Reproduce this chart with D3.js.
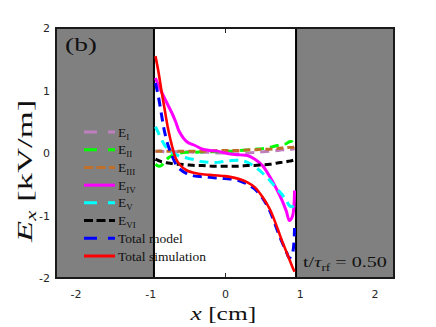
<!DOCTYPE html>
<html>
<head>
<meta charset="utf-8">
<script src="https://cdn.jsdelivr.net/npm/d3@7"></script>
<style>
  body { margin: 0; background: #fff; }
  svg { display: block; }
</style>
</head>
<body>
<div id="main"></div>
<script>
// values: x in cm, E_x in kV/m
const xTicks = [-2, -1, 0, 1, 2];
const yTicks = [-2, -1, 0, 1, 2];
const wallX = [-0.95, 0.95];

const xGrid = [-0.93, -0.89, -0.85, -0.81, -0.76, -0.71, -0.66, -0.61, -0.51, -0.40, -0.30, -0.20, -0.10,
               0, 0.10, 0.20, 0.30, 0.40, 0.50, 0.60, 0.70, 0.76, 0.82, 0.86, 0.90, 0.93];

const eI   = [0.03, 0.03, 0.03, 0.02, 0.02, 0.02, 0.02, 0.02, 0.02, 0.01, 0.01, 0.01, 0.00,
              0.00, -0.01, -0.01, 0.00, 0.01, 0.02, 0.03, 0.04, 0.05, 0.05, 0.06, 0.06, 0.07];
const eII  = [-0.18, -0.21, -0.20, -0.14, -0.08, -0.04, -0.01, 0.00, 0.01, 0.01, 0.02, 0.02, 0.02,
              0.03, 0.03, 0.04, 0.05, 0.06, 0.07, 0.09, 0.12, 0.14, 0.15, 0.18, 0.18, 0.12];
const eIII = [0.03, 0.03, 0.03, 0.03, 0.03, 0.03, 0.03, 0.03, 0.03, 0.03, 0.03, 0.03, 0.04,
              0.04, 0.04, 0.04, 0.05, 0.05, 0.06, 0.06, 0.07, 0.08, 0.08, 0.09, 0.09, 0.10];
const eIV  = [1.20, 1.08, 0.98, 0.88, 0.76, 0.64, 0.50, 0.34, 0.18, 0.12, 0.06, 0.04, 0.03,
              0.00, -0.02, -0.03, -0.04, -0.10, -0.20, -0.38, -0.60, -0.75, -0.93, -1.08, -1.02, -0.60];
const eV   = [0.42, 0.32, 0.22, 0.13, 0.06, 0.01, -0.02, -0.05, -0.08, -0.11, -0.14, -0.15, -0.15,
              -0.13, -0.12, -0.12, -0.15, -0.22, -0.32, -0.44, -0.58, -0.66, -0.76, -0.84, -0.86, -0.80];
const eVI  = [-0.10, -0.12, -0.14, -0.15, -0.16, -0.17, -0.18, -0.18, -0.19, -0.20, -0.20, -0.21, -0.21,
              -0.21, -0.21, -0.21, -0.20, -0.20, -0.19, -0.18, -0.16, -0.15, -0.14, -0.13, -0.12, -0.11];
const totalModel = [1.12, 0.90, 0.62, 0.35, 0.12, -0.04, -0.17, -0.25, -0.33, -0.37, -0.38, -0.39, -0.40,
                    -0.41, -0.42, -0.45, -0.50, -0.58, -0.72, -0.93, -1.24, -1.42, -1.58, -1.68, -1.62, -1.20];
const totalSim   = [1.55, 1.30, 1.00, 0.72, 0.38, 0.12, -0.08, -0.18, -0.28, -0.32, -0.34, -0.35, -0.36,
                    -0.37, -0.39, -0.42, -0.47, -0.55, -0.70, -0.90, -1.20, -1.40, -1.58, -1.70, -1.82, -1.90];

const seriesNames = ["I", "II", "III", "IV", "V", "VI", "Total model", "Total simulation"];
const seriesValues = [eI, eII, eIII, eIV, eV, eVI, totalModel, totalSim];
const seriesColors = ["#bf7fbf", "#00ff00", "#bf6f2a", "#ff00ff", "#00ffff", "#000000", "#0000ff", "#ff0000"];
const seriesDash = ["9,6", "9,6", "7,4", null, "9,6", "7,4", "9,6", null];
const legendDash = ["13,11", "13,11", "9,3.5", null, "13,11", "9,3.5", "13,11", null];

const width = 436, height = 327;
const box = {left: 56, right: 394, top: 28, bottom: 278};

const svg = d3.select("#main").append("svg")
    .attr("width", width)
    .attr("height", height);

const x = d3.scaleLinear().domain([-2.26, 2.26]).range([box.left, box.right]);
const y = d3.scaleLinear().domain([-2, 2]).range([box.bottom, box.top]);

// axes, ticks pointing inward
const axisColor = "#262626";
function styleAxis(g) {
    g.select(".domain").remove();
    g.selectAll("line").attr("stroke", axisColor);
    g.selectAll("text").attr("fill", axisColor)
        .style("font-family", "'DejaVu Sans', sans-serif").style("font-size", "11px");
}
svg.append("g").attr("transform", `translate(0,${box.bottom})`)
    .call(d3.axisBottom(x).tickValues(xTicks).tickSize(-5).tickPadding(12).tickFormat(d3.format("d")))
    .call(styleAxis);
svg.append("g").attr("transform", `translate(0,${box.top})`)
    .call(d3.axisTop(x).tickValues(xTicks).tickSize(-5).tickFormat(""))
    .call(styleAxis);
svg.append("g").attr("transform", `translate(${box.left},0)`)
    .call(d3.axisLeft(y).tickValues(yTicks).tickSize(-5).tickPadding(6).tickFormat(d3.format("d")))
    .call(styleAxis);
svg.selectAll("text").filter(function() { return this.textContent.startsWith("−"); })
    .text(function() { return this.textContent.replace("−", "-"); });

// gray walls outside the plasma
const walls = [[x.domain()[0], wallX[0]], [wallX[1], x.domain()[1]]];
svg.append("g").selectAll("rect")
    .data(walls)
    .join("rect")
    .attr("x", d => x(d[0]))
    .attr("y", box.top)
    .attr("width", d => x(d[1]) - x(d[0]))
    .attr("height", box.bottom - box.top)
    .attr("fill", "#808080")
    .attr("stroke", "#000")
    .attr("stroke-width", 2);

// curves
const line = d3.line()
    .x((d, i) => x(xGrid[i]))
    .y(d => y(d))
    .curve(d3.curveCatmullRom);

svg.append("g").selectAll("path")
    .data(seriesValues)
    .join("path")
    .attr("d", d => line(d))
    .attr("fill", "none")
    .attr("stroke", (d, i) => seriesColors[i])
    .attr("stroke-width", (d, i) => i === 7 ? 2.6 : 3)
    .attr("stroke-dasharray", (d, i) => seriesDash[i]);

// axes box
svg.append("rect")
    .attr("x", box.left).attr("y", box.top)
    .attr("width", box.right - box.left).attr("height", box.bottom - box.top)
    .attr("fill", "none").attr("stroke", "#1a1a1a").attr("stroke-width", 2);

// legend
const legend = svg.append("g");
const rowY = d3.scaleLinear().domain([0, 7]).range([132, 256]);
seriesNames.forEach((name, i) => {
    const yy = rowY(i);
    legend.append("line")
        .attr("x1", 84).attr("x2", 115).attr("y1", yy).attr("y2", yy)
        .attr("stroke", seriesColors[i]).attr("stroke-width", 3)
        .attr("stroke-dasharray", legendDash[i]);
    const t = legend.append("text")
        .attr("x", 118).attr("y", yy + 4.5)
        .style("font-family", "'Liberation Serif', serif").style("font-size", "13.5px")
        .attr("fill", "#111");
    if (i < 6) {
        t.append("tspan").text("E");
        t.append("tspan").text(name).style("font-size", "9px").attr("baseline-shift", "-3");
    } else {
        t.text(name);
    }
});

// stretch text horizontally to the width it takes in the figure
function fit(sel, w) {
    const bw = sel.node().getBBox().width;
    return w / bw;
}
const serif = "'Liberation Serif', 'Times New Roman', serif";

const panel = svg.append("text").style("font-family", serif).style("font-size", "19px")
    .attr("fill", "#111").text("(b)");
panel.attr("transform", `translate(65,51) scale(${fit(panel, 32)},1)`);

const tlab = svg.append("text").style("font-family", serif).style("font-size", "15px").attr("fill", "#111");
tlab.append("tspan").text("t/");
tlab.append("tspan").text("τ").style("font-style", "italic");
tlab.append("tspan").text("rf").style("font-size", "10px").attr("baseline-shift", "-4");
tlab.append("tspan").text(" = 0.50");
tlab.attr("transform", `translate(303,267) scale(${fit(tlab, 84)},1)`);

const xlab = svg.append("text").style("font-family", serif).style("font-size", "19px").attr("fill", "#111");
xlab.append("tspan").text("x").style("font-style", "italic");
xlab.append("tspan").text(" [cm]");
const xk = fit(xlab, 67);
xlab.attr("transform", `translate(${224 - 33.5},320) scale(${xk},1)`);

const ylab = svg.append("text").style("font-family", serif).style("font-size", "21px").attr("fill", "#111");
ylab.append("tspan").text("E").style("font-style", "italic");
ylab.append("tspan").text("x").style("font-style", "italic").style("font-size", "14px").attr("baseline-shift", "-4");
ylab.append("tspan").text(" [kV/m]");
const yk = fit(ylab, 144);
ylab.attr("transform", `translate(32,${170 + 72}) rotate(-90) scale(${yk},1)`);
</script>
</body>
</html>
